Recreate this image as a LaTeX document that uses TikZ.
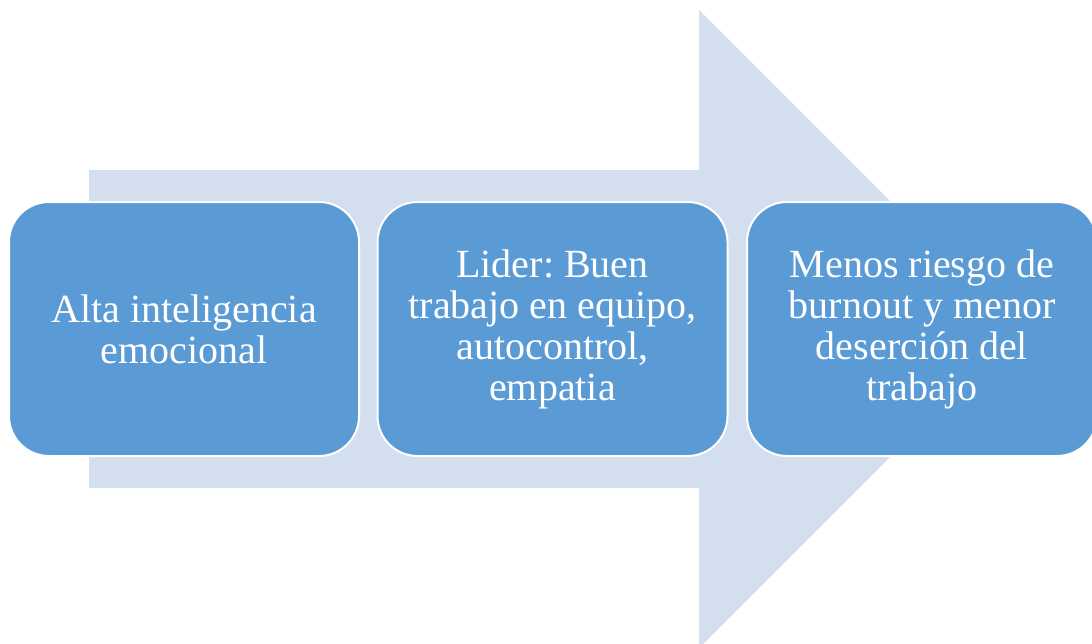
\documentclass[tikz,border=0pt]{standalone}
\usepackage{fontspec}
\setmainfont{Liberation Serif}
\usepackage{tikz}
\frenchspacing

\definecolor{arrowfill}{RGB}{211,222,239}
\definecolor{boxfill}{RGB}{91,155,213}

\tikzset{
  stagebox/.style={draw=white, line width=2pt, fill=boxfill, rounded corners=40pt,
    minimum width=350pt, minimum height=254pt, align=center, text=white,
    font=\fontsize{40}{41}\selectfont, inner sep=0pt}
}

\begin{document}
\begin{tikzpicture}[x=1pt,y=-1pt]
 \useasboundingbox (0,0) rectangle (1092,643);
 \clip (0,0) rectangle (1092,643);
 % big arrow behind the boxes
 \fill [arrowfill] (89,170) -- (699,170) -- (699,10) -- (1018,329) -- (699,648) -- (699,488) -- (89,488) -- cycle;
 \node [stagebox] (alta) at (184,329) {Alta inteligencia\\emocional};
 \node [stagebox] (lider) at (552.5,329) {Lider: Buen\\trabajo en equipo,\\autocontrol,\\empatia};
 \node [stagebox] (menos) at (922,329) {Menos riesgo de\\burnout y menor\\deserción del\\trabajo};
\end{tikzpicture}
\end{document}
